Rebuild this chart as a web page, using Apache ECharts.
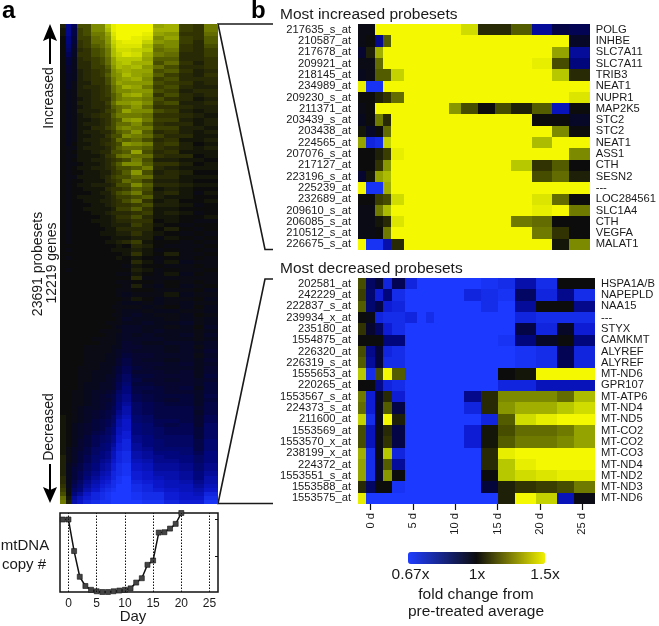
<!DOCTYPE html>
<html>
<head>
<meta charset="utf-8">
<style>html,body{margin:0;padding:0;background:#fff}#main{width:659px;height:626px}</style>
<script src="https://cdn.jsdelivr.net/npm/echarts@6/dist/echarts.min.js"></script>
</head>
<body>
<div id="main"></div>
<script>
// column edges in days, the time points are not evenly spaced
const dayEdges = [-1.5,-0.5,0.5,1.5,2.5,4,5.5,6.5,7.5,8.5,9.5,11,13,15,17,19.5,22,24,26.5];
const tickDays = [0,5,10,15,20,25];

// all cell values: -20 = 0.67x (blue), 0 = 1x, 20 = 1.5x (yellow)
const overviewRows = [
[2,-11,-7,6,6,10,10,15,19,20,20,20,20,12,13,5,4,9],
[1,-11,-6,5,6,10,10,14,19,20,20,20,20,13,13,5,4,9],
[1,-11,-6,5,6,9,9,12,18,20,20,20,19,12,11,4,4,8],
[0,-10,-5,5,5,8,9,11,17,20,20,19,18,10,12,5,4,7],
[0,-10,-5,4,5,8,8,11,16,18,19,19,16,11,10,5,3,7],
[0,-9,-4,4,5,7,8,10,15,18,18,18,14,9,10,4,3,6],
[0,-8,-3,3,4,6,7,9,14,17,17,16,15,8,9,4,3,5],
[0,-7,-3,4,4,6,7,9,14,16,18,17,13,9,8,3,3,5],
[0,-5,-2,3,4,5,6,8,12,15,15,15,12,7,7,3,3,4],
[0,-5,-2,3,3,5,6,8,12,14,15,13,13,6,8,4,2,4],
[0,-4,-2,3,3,5,5,7,11,14,13,14,11,8,6,3,3,4],
[0,-4,-2,2,3,4,5,6,10,12,13,12,12,6,7,4,2,3],
[0,-3,-2,2,3,4,5,7,10,11,14,12,11,7,5,3,2,4],
[0,-3,-2,2,3,4,4,6,9,11,12,13,10,5,6,3,3,3],
[0,-3,-1,2,2,4,4,6,9,12,11,11,11,6,5,4,2,3],
[0,-3,-1,2,3,3,4,5,8,10,13,12,9,5,6,3,2,2],
[0,-2,-1,2,2,3,4,5,8,10,10,11,11,6,5,2,3,3],
[0,-2,-1,2,2,3,4,5,7,9,12,13,10,4,6,3,2,3],
[0,-2,-1,1,2,3,4,4,7,9,10,10,9,6,4,3,1,2],
[0,-2,-1,2,2,3,3,5,8,11,11,12,10,5,6,2,2,3],
[0,-2,-1,1,2,3,3,4,7,8,9,11,8,4,4,3,2,2],
[0,-2,-1,2,2,2,3,5,6,8,12,10,10,6,5,2,1,2],
[0,-2,-1,1,2,3,4,4,7,9,9,9,8,4,4,3,2,1],
[0,-2,-1,1,1,2,3,4,6,7,11,12,9,5,5,2,1,2],
[0,-2,-1,1,2,2,3,4,6,8,8,10,7,4,3,3,1,2],
[0,-2,-1,1,1,3,3,5,6,9,10,9,9,5,5,2,2,1],
[0,-2,-1,1,2,2,3,3,5,7,8,11,7,3,4,2,1,2],
[0,-2,-1,1,1,2,2,4,6,6,10,9,8,5,3,3,1,1],
[0,-2,-1,1,2,2,3,3,5,8,7,8,6,3,4,1,1,2],
[0,-2,0,1,1,2,3,4,5,6,11,10,9,4,5,2,0,1],
[0,-1,-1,1,2,2,2,3,5,7,8,8,7,4,3,2,1,2],
[0,-1,0,1,1,2,3,3,6,6,7,12,6,3,4,1,1,1],
[0,-1,-1,1,1,1,2,4,5,8,9,8,8,4,3,3,0,1],
[0,-1,0,1,1,2,2,3,4,5,6,9,6,2,2,1,1,0],
[0,-1,-1,0,1,1,2,3,5,7,10,10,7,4,4,2,0,1],
[0,-1,0,1,1,2,2,3,4,6,6,7,9,3,2,1,1,1],
[0,-1,0,0,1,1,2,2,4,5,7,11,6,2,3,2,0,0],
[0,-1,-1,1,1,1,2,3,5,6,6,8,8,3,3,1,1,1],
[0,-1,0,0,1,1,1,3,4,5,8,7,5,2,2,1,0,0],
[0,-1,0,1,1,2,2,2,3,6,6,10,7,3,3,2,1,1],
[0,-1,0,0,1,1,1,3,4,4,5,7,6,1,2,1,0,0],
[0,-1,0,0,0,1,2,2,4,6,7,9,5,2,3,1,-1,1],
[0,-1,0,1,1,1,1,2,3,5,5,6,7,2,1,1,0,0],
[0,-1,0,0,1,1,2,2,3,4,6,8,4,1,2,0,0,1],
[0,-1,0,0,0,1,1,2,3,4,4,5,6,2,2,1,-1,0],
[0,-1,0,0,1,1,1,1,2,5,5,7,4,1,1,0,0,0],
[0,-1,0,0,0,1,1,2,3,3,3,4,5,1,2,1,-1,0],
[0,-1,0,0,0,0,1,1,2,4,4,6,3,1,1,0,0,1],
[0,-1,0,0,0,1,1,1,2,3,3,4,4,0,1,0,-1,-1],
[0,-1,0,0,0,0,1,1,2,2,2,5,3,1,0,-1,0,0],
[0,-1,0,0,0,0,0,1,1,3,3,3,3,0,2,0,-1,0],
[0,-1,0,0,0,0,1,1,1,2,2,4,2,1,0,-1,0,-1],
[0,-1,0,0,0,0,0,0,1,1,1,2,2,-1,1,0,-1,0],
[0,-1,0,0,0,0,0,1,1,2,3,5,1,0,0,-1,0,-1],
[0,0,0,0,0,0,0,0,0,1,0,3,2,0,-1,-1,-1,0],
[0,-1,0,0,0,0,0,0,1,1,1,2,1,-1,0,-1,0,-1],
[0,0,0,0,0,0,0,0,0,0,1,4,1,0,2,-1,-1,0],
[0,-1,0,0,0,0,0,0,0,1,0,1,0,-1,0,-1,0,-1],
[0,0,0,0,0,0,0,0,0,0,0,3,1,-1,1,-2,-1,-1],
[0,0,0,0,0,0,0,0,0,0,-1,1,0,0,-1,-1,0,-1],
[0,-1,0,0,0,0,0,0,0,0,0,2,1,-1,0,-1,-1,0],
[0,0,0,0,0,0,0,0,0,-1,-1,1,0,-1,1,-2,0,-1],
[0,0,0,0,0,0,0,0,0,0,0,3,-1,-1,-1,-1,-1,-1],
[0,0,0,0,0,0,0,0,0,-1,-1,0,0,-1,0,-1,0,-1],
[0,0,0,0,0,0,0,0,0,0,-1,2,-1,-2,0,-2,-1,0],
[0,0,0,0,0,0,0,0,0,-1,-1,0,0,-1,-1,-1,0,-2],
[0,0,0,0,0,0,0,0,0,-1,-2,-1,-1,-1,1,-2,-1,-1],
[0,0,0,0,0,0,0,0,0,0,-1,1,0,-2,-1,-1,0,-2],
[0,0,0,0,0,0,0,0,0,-1,-2,-2,-1,-2,-1,-2,-1,-1],
[0,0,0,0,0,0,0,0,-1,-1,-1,-1,-2,-1,0,-2,0,-2],
[0,0,0,0,0,0,0,0,0,-1,-2,-2,-1,-2,-2,-1,-1,-2],
[0,0,0,0,0,0,0,0,-1,-1,-2,-3,-2,-1,-1,-2,0,-1],
[0,0,0,0,0,0,0,0,0,-1,-3,-2,-2,-2,-1,-2,-1,-2],
[0,0,0,0,0,0,0,-1,-1,-1,-2,-2,-3,-2,-2,-3,-1,-2],
[0,0,0,0,0,0,0,0,-1,-2,-3,-3,-2,-2,-1,-2,0,-3],
[0,0,0,0,0,0,-1,-1,-1,-1,-3,-3,-2,-3,-2,-2,-1,-2],
[0,0,0,0,0,0,0,-1,-1,-2,-3,-2,-3,-2,-2,-3,-1,-3],
[0,0,0,0,0,-1,-1,-1,-1,-2,-3,-3,-3,-3,-2,-2,-1,-2],
[0,0,0,0,0,0,-1,-1,-1,-2,-4,-3,-2,-2,-3,-3,-2,-3],
[0,0,0,0,-1,-1,-1,-1,-2,-2,-4,-4,-3,-3,-2,-3,-1,-3],
[0,0,0,0,-1,-1,-1,-1,-2,-3,-4,-3,-3,-3,-2,-3,-2,-4],
[0,0,0,0,-1,-1,-1,-2,-2,-3,-5,-4,-4,-3,-3,-3,-1,-3],
[0,0,0,0,-1,-1,-1,-2,-2,-4,-6,-4,-3,-3,-2,-3,-2,-4],
[0,0,0,0,-1,-1,-2,-2,-2,-4,-6,-4,-4,-4,-3,-4,-2,-3],
[0,0,0,-1,-1,-1,-2,-2,-3,-5,-7,-5,-4,-3,-3,-3,-2,-4],
[0,0,0,-1,-1,-2,-2,-2,-3,-5,-7,-4,-4,-4,-3,-4,-2,-4],
[0,0,0,-1,-1,-2,-2,-3,-3,-6,-8,-5,-5,-4,-4,-4,-2,-5],
[0,0,0,-1,-1,-2,-2,-3,-4,-6,-8,-6,-4,-4,-3,-4,-3,-4],
[0,0,0,-1,-2,-2,-3,-3,-4,-7,-9,-5,-5,-4,-4,-4,-3,-5],
[0,0,0,-1,-2,-2,-3,-3,-4,-7,-10,-6,-6,-5,-4,-5,-2,-5],
[0,0,-1,-1,-2,-3,-3,-4,-5,-8,-10,-6,-5,-5,-4,-4,-3,-5],
[0,0,-1,-1,-2,-3,-4,-5,-6,-9,-11,-7,-6,-5,-5,-5,-3,-6],
[0,0,-1,-1,-2,-3,-4,-4,-6,-9,-11,-7,-6,-5,-4,-5,-3,-5],
[0,0,-1,-1,-2,-3,-4,-5,-6,-10,-12,-8,-7,-6,-5,-5,-3,-6],
[0,0,-1,-2,-3,-3,-4,-5,-7,-10,-13,-8,-7,-6,-6,-6,-4,-6],
[0,0,-1,-2,-3,-4,-5,-6,-7,-11,-13,-8,-7,-6,-6,-6,-3,-6],
[1,0,-1,-2,-3,-4,-5,-6,-8,-12,-14,-9,-8,-6,-6,-6,-4,-7],
[1,0,-1,-2,-3,-5,-6,-7,-8,-13,-15,-9,-8,-7,-7,-6,-4,-7],
[1,0,-2,-3,-4,-5,-6,-7,-9,-13,-15,-10,-9,-7,-6,-7,-4,-8],
[1,0,-2,-3,-4,-5,-6,-8,-10,-14,-15,-10,-9,-8,-7,-7,-5,-8],
[1,0,-2,-3,-4,-6,-7,-8,-10,-14,-16,-10,-9,-8,-7,-7,-5,-8],
[1,0,-2,-3,-5,-7,-8,-9,-11,-15,-16,-11,-10,-8,-8,-8,-5,-8],
[1,0,-2,-4,-5,-7,-8,-9,-11,-15,-17,-11,-10,-9,-8,-8,-6,-9],
[1,0,-2,-4,-5,-7,-9,-10,-12,-16,-17,-12,-10,-9,-8,-8,-6,-9],
[1,-1,-3,-4,-6,-8,-9,-10,-13,-16,-17,-12,-11,-9,-9,-9,-6,-9],
[1,-1,-3,-5,-6,-8,-10,-11,-14,-17,-18,-13,-12,-10,-10,-9,-7,-10],
[2,-1,-3,-5,-7,-9,-10,-11,-14,-17,-18,-13,-12,-11,-10,-10,-8,-10],
[2,-1,-3,-5,-7,-9,-11,-12,-15,-17,-18,-14,-13,-11,-11,-10,-8,-10],
[2,-2,-4,-6,-8,-10,-12,-13,-16,-18,-19,-15,-14,-12,-12,-11,-9,-11],
[2,-2,-5,-6,-8,-10,-12,-13,-16,-18,-19,-15,-14,-12,-12,-11,-9,-11],
[2,-2,-5,-7,-9,-11,-13,-14,-17,-18,-19,-16,-15,-13,-13,-12,-10,-12],
[3,-2,-5,-7,-10,-12,-14,-15,-17,-19,-20,-16,-15,-14,-13,-12,-10,-13],
[3,-2,-6,-8,-11,-13,-15,-16,-18,-19,-20,-17,-16,-15,-14,-13,-11,-13],
[4,-2,-7,-9,-12,-14,-16,-17,-18,-20,-20,-18,-17,-15,-14,-14,-12,-14],
[5,-1,-8,-10,-13,-15,-17,-18,-19,-20,-20,-18,-17,-16,-15,-14,-13,-15],
[6,0,-10,-12,-15,-17,-18,-19,-20,-20,-20,-19,-18,-18,-16,-15,-14,-17],
[8,1,-12,-14,-16,-17,-18,-19,-20,-20,-20,-19,-18,-18,-16,-15,-15,-18],
[9,2,-13,-15,-17,-18,-19,-19,-20,-20,-20,-20,-19,-19,-17,-16,-16,-19]
];

const increasedProbes = ['217635_s_at','210587_at','217678_at','209921_at','218145_at','234989_at','209230_s_at','211371_at','203439_s_at','203438_at','224565_at','207076_s_at','217127_at','223196_s_at','225239_at','232689_at','209610_s_at','206085_s_at','210512_s_at','226675_s_at'];
const increasedGenes = ['POLG','INHBE','SLC7A11','SLC7A11','TRIB3','NEAT1','NUPR1','MAP2K5','STC2','STC2','NEAT1','ASS1','CTH','SESN2','---','LOC284561','SLC1A4','CTH','VEGFA','MALAT1'];
const increasedRows = [
[-1,-1,20,20,20,20,20,20,20,20,20,17,3,3,7,-12,-6,-7],
[-1,0,-11,7,20,20,20,20,20,20,20,20,20,20,20,20,20,-3],
[-4,2,13,20,20,20,20,20,20,20,20,20,20,20,20,20,12,-12],
[-1,-1,8,20,20,20,20,20,20,20,20,20,20,20,20,19,6,-10],
[-2,-1,7,7,16,20,20,20,20,20,20,20,20,20,20,20,15,3],
[19,-19,-19,20,20,20,20,20,20,20,20,20,20,20,20,20,20,20],
[0,0,2,4,8,20,20,20,20,20,20,20,20,20,20,20,20,18],
[-1,0,20,20,20,20,20,20,20,20,11,6,0,6,2,7,-14,0],
[-2,0,9,3,20,20,20,20,20,20,20,20,20,20,20,0,0,-3],
[1,-3,0,8,20,20,20,20,20,20,20,20,20,20,20,20,10,0],
[12,-17,-18,16,20,20,20,20,20,20,20,20,20,20,20,14,20,20],
[0,0,2,5,19,20,20,20,20,20,20,20,20,20,20,20,20,10],
[0,0,4,11,20,20,20,20,20,20,20,20,20,20,15,4,7,0],
[-4,1,12,14,20,20,20,20,20,20,20,20,20,20,20,6,8,2],
[20,-19,-19,13,20,20,20,20,20,20,20,20,20,20,20,20,20,20],
[0,0,5,6,17,20,20,20,20,20,20,20,20,20,20,18,8,0],
[-1,-1,9,14,20,20,20,20,20,20,20,20,20,20,20,19,20,9],
[-1,-1,1,3,18,20,20,20,20,20,20,20,20,20,9,8,0,0],
[-1,-1,0,9,20,20,20,20,20,20,20,20,20,20,20,9,4,0],
[20,-19,-19,-13,3,20,20,20,20,20,20,20,20,20,20,20,1,10]
];

const decreasedProbes = ['202581_at','242229_at','222837_s_at','239934_x_at','235180_at','1554875_at','226320_at','226319_s_at','1555653_at','220265_at','1553567_s_at','224373_s_at','211600_at','1553569_at','1553570_x_at','238199_x_at','224372_at','1553551_s_at','1553588_at','1553575_at'];
const decreasedGenes = ['HSPA1A/B','NAPEPLD','NAA15','---','STYX','CAMKMT','ALYREF','ALYREF','MT-ND6','GPR107','MT-ATP6','MT-ND4','MT-ND5','MT-CO2','MT-CO2','MT-CO3','MT-ND4','MT-ND2','MT-ND3','MT-ND6'];
const decreasedRows = [
[6,-8,-5,-17,-7,-17,-20,-20,-20,-20,-20,-20,-19,-18,-13,-18,0,0],
[5,-9,-16,-10,-18,-20,-20,-20,-20,-20,-20,-17,-18,-19,-8,-17,-11,-18],
[7,-9,-6,-16,-17,-20,-20,-20,-20,-20,-20,-20,-18,-20,-12,0,0,-11],
[0,-1,-17,-18,-18,-17,-20,-18,-20,-20,-20,-20,-20,-20,-17,-18,-18,-18],
[4,-4,-8,-16,-18,-20,-20,-20,-20,-20,-20,-20,-20,-20,-6,-17,-3,-16],
[0,0,0,-10,-10,-20,-20,-20,-20,-20,-20,-20,-20,-19,-10,-3,0,-10],
[6,-11,-5,-17,-18,-20,-20,-20,-20,-20,-20,-20,-20,-20,-19,-18,-7,-17],
[7,-12,-5,-18,-18,-20,-20,-20,-20,-20,-20,-20,-20,-20,-19,-18,-7,-17],
[15,-18,6,20,7,-20,-20,-20,-20,-20,-20,-20,-20,0,1,20,20,20],
[0,0,-11,-17,-18,-20,-20,-20,-20,-20,-20,-20,-20,-17,-17,-14,-14,-14],
[9,-16,-3,3,-16,-20,-20,-20,-20,-20,-20,-11,3,10,10,10,8,14],
[8,-16,-2,7,-6,-20,-20,-20,-20,-20,-20,-17,3,11,13,13,15,17],
[16,-18,-2,20,2,-20,-20,-20,-20,-20,-20,-20,-17,7,17,19,20,20],
[6,-14,-1,3,-6,-20,-20,-20,-20,-20,-20,-16,1,6,8,8,9,12],
[6,-14,-1,4,-6,-20,-20,-20,-20,-20,-20,-16,1,7,9,9,10,12],
[13,-18,-1,15,-17,-20,-20,-20,-20,-20,-20,-20,3,19,20,20,20,20],
[12,-18,-3,7,-12,-20,-20,-20,-20,-20,-20,-20,3,15,19,20,20,20],
[12,-18,-3,11,0,-20,-20,-20,-20,-20,-20,-20,0,15,17,18,19,19],
[3,-8,0,0,-19,-20,-20,-20,-20,-20,-20,-20,-5,2,4,5,6,9],
[19,-20,-20,-20,-20,-20,-20,-20,-20,-20,-20,-20,-20,2,20,16,-14,-1]
];

// mtDNA copy number, relative, day -1 to 20
const copyDays = [-1,0,1,2,3,4,5,6,7,8,9,10,11,12,13,14,15,16,17,18,19,20];
const copyValues = [1,1,0.565,0.21,0.083,0.03,0.01,0,0,0.01,0.02,0.03,0.05,0.13,0.19,0.375,0.435,0.82,0.825,0.875,0.94,1.09];

const FONT = 'Liberation Sans';
const INK = '#1a1a1a';

function toCells(rows) {
  const cells = [];
  rows.forEach((row, r) => row.forEach((v, c) => cells.push([c, r, v])));
  return cells;
}

// snap to whole pixels or the cells get hairline seams
function renderCell(params, api) {
  const c = api.value(0), r = api.value(1);
  const a = api.coord([dayEdges[c], r]);
  const b = api.coord([dayEdges[c + 1], r]);
  const h = api.size([0, 1])[1];
  const x0 = Math.round(a[0]), x1 = Math.round(b[0]);
  const y0 = Math.round(a[1] - h / 2), y1 = Math.round(a[1] + h / 2);
  return {
    type: 'rect',
    shape: { x: x0, y: y0, width: x1 - x0, height: y1 - y0 },
    style: { fill: api.visual('color') }
  };
}

function heatSeries(idx, rows) {
  return {
    type: 'custom', xAxisIndex: idx, yAxisIndex: idx === 0 ? 0 : idx * 2 - 1,
    renderItem: renderCell, data: toCells(rows), encode: { x: 0, y: 1 }, silent: true
  };
}

function textEl(text, x, y, size, align) {
  return {
    type: 'text', x: x, y: y,
    style: { text: text, font: size + 'px "' + FONT + '"', fill: INK, textAlign: align || 'center', textVerticalAlign: 'middle' }
  };
}
function boldEl(text, x, y) {
  return { type: 'text', x: x, y: y, style: { text: text, font: 'bold 24px "' + FONT + '"', fill: '#000', textAlign: 'left', textVerticalAlign: 'middle' } };
}
function vertEl(text, x, y, size) {
  return Object.assign(textEl(text, x, y, size), { rotation: Math.PI / 2 });
}
function connector(points) {
  return { type: 'polyline', shape: { points: points }, style: { stroke: INK, lineWidth: 1.6, fill: null } };
}

const hiddenX = (i) => ({ type: 'value', gridIndex: i, min: -1.5, max: 26.5, show: false });
const sideAxis = (i, labels, pos, margin) => ({
  type: 'category', gridIndex: i, inverse: true, data: labels, position: pos,
  axisLine: { show: false }, axisTick: { show: false },
  axisLabel: { interval: 0, margin: margin, fontFamily: FONT, fontSize: 11.2, color: INK }
});

const myChart = echarts.init(document.getElementById('main'));
const option = {
  backgroundColor: '#fff',
  animation: false,
  textStyle: { fontFamily: FONT },
  visualMap: [
    {
      // cells: saturated all the way down to black
      type: 'continuous', show: false, seriesIndex: [0, 1, 2], dimension: 2, min: -20, max: 20,
      inRange: { color: ['#1c3aff', '#0a16c8', '#02067c', '#04053a', '#0c0c0c', '#3a3e00', '#7c8a00', '#b8c800', '#f4f800'] }
    },
    {
      // legend bar, the plain three colour ramp
      type: 'continuous', seriesIndex: 4, dimension: 2, min: -20, max: 20,
      orient: 'horizontal', left: 408, top: 552, padding: 0, itemWidth: 12, itemHeight: 137,
      calculable: false, hoverLink: false, showLabel: false,
      inRange: { color: ['#1f3dff', '#0d0d0d', '#f0f000'] }
    }
  ],
  grid: [
    { left: 60, top: 24, width: 158, height: 480 },
    { left: 358, top: 24, width: 237, height: 226 },
    { left: 358, top: 278, width: 237, height: 226 },
    { left: 60, top: 513, width: 158, height: 79, show: true, borderColor: '#111', borderWidth: 1.5 }
  ],
  xAxis: [
    hiddenX(0),
    hiddenX(1),
    {
      type: 'value', gridIndex: 2, min: -1.5, max: 26.5, position: 'bottom',
      splitLine: { show: false }, axisLine: { show: false },
      axisTick: { show: true, customValues: tickDays, length: 6, lineStyle: { color: '#111', width: 1.2 } },
      axisLabel: { customValues: tickDays, rotate: 90, margin: 9, formatter: '{value} d', fontFamily: FONT, fontSize: 11.2, color: INK }
    },
    {
      type: 'value', gridIndex: 3, min: -1.5, max: 26.5,
      splitLine: { show: false }, axisLine: { show: false }, axisTick: { show: false },
      axisLabel: { customValues: tickDays, margin: 6, fontFamily: FONT, fontSize: 12, color: INK }
    }
  ],
  yAxis: [
    { type: 'category', gridIndex: 0, inverse: true, show: false, data: overviewRows.map((_, i) => i) },
    sideAxis(1, increasedProbes, 'left', 7),
    sideAxis(1, increasedGenes, 'right', 6),
    sideAxis(2, decreasedProbes, 'left', 7),
    sideAxis(2, decreasedGenes, 'right', 6),
    {
      type: 'value', gridIndex: 3, min: 0, max: 1.09, position: 'right',
      splitLine: { show: false }, axisLine: { show: false, onZero: false }, axisLabel: { show: false },
      axisTick: { show: true, inside: true, length: 3, customValues: [0.5, 1], lineStyle: { color: '#111' } }
    }
  ],
  series: [
    heatSeries(0, overviewRows),
    heatSeries(1, increasedRows),
    heatSeries(2, decreasedRows),
    {
      type: 'line', xAxisIndex: 3, yAxisIndex: 5,
      data: copyDays.map((d, i) => [d, copyValues[i]]),
      symbol: 'rect', symbolSize: 5, clip: false, silent: true,
      lineStyle: { color: '#111', width: 1.5 },
      itemStyle: { color: '#444', borderColor: '#111', borderWidth: 0.6 },
      markLine: {
        silent: true, symbol: 'none', label: { show: false },
        lineStyle: { color: '#111', type: [1.5, 1.5], width: 1 },
        data: tickDays.map((d) => ({ xAxis: d }))
      }
    },
    // empty, only here so the legend bar has something to point at
    { type: 'custom', xAxisIndex: 3, yAxisIndex: 5, renderItem: () => null, data: [] }
  ],
  graphic: [
    boldEl('a', 2, 11),
    boldEl('b', 251, 11),
    textEl('Most increased probesets', 280, 15, 15.5, 'left'),
    textEl('Most decreased probesets', 280, 269, 15.5, 'left'),
    vertEl('Increased', 49, 98, 14),
    vertEl('Decreased', 49, 427, 14),
    vertEl('23691 probesets', 38, 264, 14),
    vertEl('12219 genes', 52, 263, 14),
    // arrows next to the overview
    { type: 'line', shape: { x1: 50, y1: 64, x2: 50, y2: 36 }, style: { stroke: '#000', lineWidth: 2 } },
    { type: 'polygon', shape: { points: [[50, 24], [57, 41], [50, 38], [43, 41]] }, style: { fill: '#000' } },
    { type: 'line', shape: { x1: 50, y1: 464, x2: 50, y2: 492 }, style: { stroke: '#000', lineWidth: 2 } },
    { type: 'polygon', shape: { points: [[50, 503], [57, 487], [50, 490], [43, 487]] }, style: { fill: '#000' } },
    // zoom connectors from a to b
    connector([[273, 24], [218, 24], [265, 249.5], [273, 249.5]]),
    connector([[273, 279], [265, 279], [218, 503.5], [273, 503.5]]),
    textEl('mtDNA', 25, 545.5, 15),
    textEl('copy #', 24, 565, 15),
    textEl('Day', 133, 617, 15),
    textEl('0.67x', 410.5, 575, 15.5),
    textEl('1x', 477, 575, 15.5),
    textEl('1.5x', 545, 575, 15.5),
    textEl('fold change from', 476, 595, 15.5),
    textEl('pre-treated average', 476, 612, 15.5)
  ]
};
myChart.setOption(option);
</script>
</body>
</html>
